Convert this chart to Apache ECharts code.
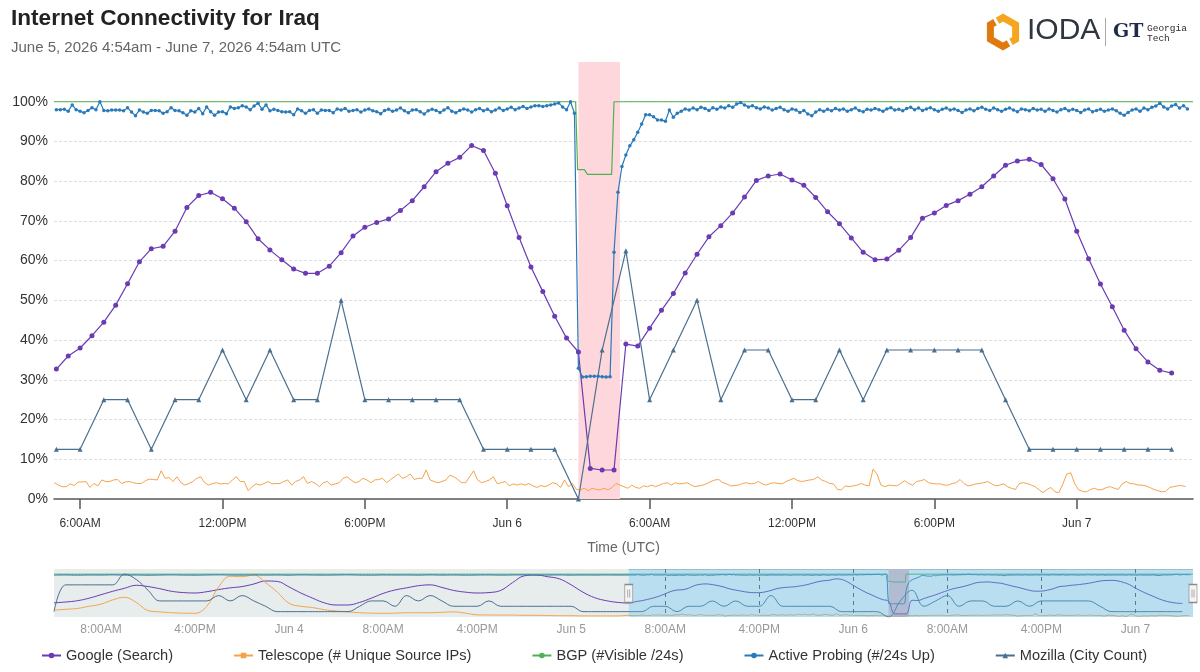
<!DOCTYPE html>
<html><head><meta charset="utf-8">
<script src="https://cdn.jsdelivr.net/npm/echarts@6/dist/echarts.min.js"></script>
<style>html,body{margin:0;padding:0;background:#fff}#chart{width:1200px;height:672px}</style>
</head><body><div id="chart"></div>
<script>
// ---------------- DATA ----------------
const seriesNames = ['Google (Search)', 'Telescope (# Unique Source IPs)', 'BGP (#Visible /24s)', 'Active Probing (#/24s Up)', 'Mozilla (City Count)'];

const viewStart = '2026-06-05T04:54:00Z';
const viewEnd = '2026-06-07T04:54:00Z';
const navStart = '2026-06-03T04:00:00Z';
const outageStart = '2026-06-06T03:00:00Z';
const outageEnd = '2026-06-06T04:45:00Z';

const mainTickTimes = ['2026-06-05T06:00:00Z','2026-06-05T12:00:00Z','2026-06-05T18:00:00Z','2026-06-06T00:00:00Z','2026-06-06T06:00:00Z','2026-06-06T12:00:00Z','2026-06-06T18:00:00Z','2026-06-07T00:00:00Z'];
const mainTickLabels = ['6:00AM','12:00PM','6:00PM','Jun 6','6:00AM','12:00PM','6:00PM','Jun 7'];
const navTickTimes = ['2026-06-03T08:00:00Z','2026-06-03T16:00:00Z','2026-06-04T00:00:00Z','2026-06-04T08:00:00Z','2026-06-04T16:00:00Z','2026-06-05T00:00:00Z','2026-06-05T08:00:00Z','2026-06-05T16:00:00Z','2026-06-06T00:00:00Z','2026-06-06T08:00:00Z','2026-06-06T16:00:00Z','2026-06-07T00:00:00Z'];
const navTickLabels = ['8:00AM','4:00PM','Jun 4','8:00AM','4:00PM','Jun 5','8:00AM','4:00PM','Jun 6','8:00AM','4:00PM','Jun 7'];
const yTickValues = [0,10,20,30,40,50,60,70,80,90,100];

// Google (Search): every 30 min from Jun 5 05:00
const googleStart = '2026-06-05T05:00:00Z';
const googleStepMin = 30;
const googleValues = [32.7,36.0,38.0,41.1,44.5,48.8,54.2,59.7,63.0,63.6,
67.4,73.4,76.4,77.2,75.6,73.2,69.8,65.5,62.7,60.2,
57.9,56.8,56.8,58.6,62.0,66.2,68.4,69.6,70.5,72.6,
75.1,78.6,82.4,84.5,86.0,89.0,87.7,82.0,73.8,65.8,
58.4,52.2,46.0,40.5,37.0,7.7,7.3,7.3,39.0,38.5,
43.0,47.5,51.7,56.9,61.6,66.0,68.8,72.0,76.0,80.2,
81.3,81.8,80.3,79.0,75.9,72.3,69.3,65.7,62.1,60.2,
60.4,62.6,65.8,70.7,72.0,73.9,75.1,76.7,78.6,81.3,
84.0,85.1,85.5,84.2,80.6,75.5,67.4,60.5,54.1,48.4,
42.5,37.8,34.5,32.4,31.7];

// Telescope: every 10 min from Jun 5 04:55
const telescopeStart = '2026-06-05T04:55:00Z';
const telescopeStepMin = 10;
const telescopeValues = [4.1,3.5,3.1,3.1,3.8,3.4,4.3,4.3,4.4,2.9,
3.9,3.3,4.8,4.4,4.4,4.8,4.9,3.9,4.3,4.4,
4.1,3.9,3.9,4.6,5.0,4.9,4.8,7.1,5.2,5.4,
4.4,5.6,4.1,3.5,3.9,4.4,5.2,5.6,4.1,3.5,
3.9,4.1,3.8,3.9,3.8,4.8,5.6,4.4,4.4,2.1,
3.1,3.8,3.5,3.9,4.4,3.8,3.9,3.9,4.4,4.8,
3.5,4.4,4.8,5.6,3.9,4.4,3.9,3.1,4.1,4.4,
3.5,3.8,4.1,5.2,5.6,4.8,4.1,4.4,5.2,4.8,
4.1,4.8,4.9,5.2,4.1,4.9,5.6,6.3,5.2,5.6,
6.3,4.9,5.2,5.2,7.3,4.8,4.4,4.1,4.4,4.8,
6.0,5.6,4.9,4.1,4.1,5.6,7.1,4.8,4.1,4.4,
4.8,5.6,3.8,4.1,4.4,3.3,3.8,3.5,3.8,3.5,
3.9,3.3,2.9,3.4,3.1,3.5,4.1,3.8,2.9,4.8,
3.1,3.9,2.4,2.3,2.7,2.1,2.7,2.4,2.3,2.7,
2.3,2.9,3.9,3.5,3.1,2.7,3.5,2.9,2.7,3.3,
3.1,3.5,3.1,3.5,3.9,4.1,3.5,4.1,3.8,3.9,
4.1,3.5,3.1,3.3,3.5,3.9,4.4,4.8,4.9,4.1,
3.8,3.3,3.4,3.5,3.9,4.1,3.8,3.9,4.4,3.8,
3.5,3.9,4.1,3.9,3.8,4.4,4.8,5.2,4.6,4.4,
4.6,4.8,4.9,5.6,4.8,4.4,3.9,3.8,2.4,2.3,
3.3,3.1,3.3,3.5,3.9,3.5,3.3,7.5,6.3,3.5,
3.1,3.5,3.4,3.3,3.9,4.6,3.9,3.5,4.4,4.6,
4.9,4.1,3.9,3.8,3.8,3.5,3.5,3.9,4.1,4.9,
3.9,3.3,3.5,3.8,3.9,4.1,4.4,3.8,3.3,3.5,
3.8,3.1,2.7,2.4,3.9,4.1,3.9,3.5,3.1,2.3,
1.6,2.4,2.9,1.8,1.6,3.8,6.3,6.6,3.8,2.3,
1.9,1.8,2.4,2.7,2.3,2.4,2.9,3.1,2.7,2.4,
3.8,4.4,3.9,3.8,3.5,3.5,3.3,2.9,2.4,2.1,
1.8,1.9,2.9,3.1,3.3,3.4,3.1];

// BGP: change points
const bgpTimes = ['2026-06-05T04:54:00Z','2026-06-06T02:53:00Z','2026-06-06T02:58:00Z','2026-06-06T03:15:00Z','2026-06-06T03:23:00Z','2026-06-06T04:24:00Z','2026-06-06T04:30:00Z','2026-06-07T04:54:00Z'];
const bgpValues = [100,100,82.9,82.9,81.7,81.7,100,100];

// Active Probing: every 10 min from Jun 5 05:00
const probingStart = '2026-06-05T05:00:00Z';
const probingStepMin = 10;
const probingValues = [98.0,98.0,98.1,97.6,99.2,98.0,97.6,97.2,97.8,98.5,
98.0,100,97.8,97.7,97.9,97.9,97.9,97.7,98.5,97.4,
96.5,97.9,97.4,97.1,97.8,97.8,97.7,97.1,97.5,98.5,
97.8,97.7,97.2,96.6,97.7,97.4,98.3,97.0,98.7,97.5,
96.6,97.4,97.5,97.0,98.7,98.3,98.5,99.0,98.7,98.0,
98.9,99.6,98.1,99.2,97.7,98.1,97.8,97.5,97.4,97.5,
96.7,98.2,97.7,97.1,97.8,98.0,97.1,97.9,97.8,97.8,
97.2,98.2,
97.9,98.3,97.6,97.8,98.0,97.4,97.9,98.2,97.7,97.5,
97.0,97.8,98.1,97.6,97.9,98.4,97.7,97.2,97.9,98.0,
97.5,96.9,97.7,98.1,97.8,97.3,97.9,98.5,97.6,97.2,
97.8,98.2,97.9,97.4,98.0,98.3,97.7,98.1,97.5,97.9,
98.4,97.8,98.2,98.6,98.0,98.4,98.8,98.3,98.7,99.0,
99.0,98.8,99.0,99.2,99.4,99.7,98.7,98.0,100,97.1,
32.9,30.7,30.8,30.9,30.9,30.9,30.8,30.7,30.8,62.1,
77.2,83.7,86.6,88.9,90.4,92.3,94.4,96.7,96.7,96.2,
95.4,95.4,95.1,97.9,96.1,97.1,
97.6,98.2,97.9,98.4,98.0,98.6,98.3,97.8,98.5,98.1,
98.7,98.4,99.0,98.6,99.4,99.8,99.2,98.7,99.0,98.5,
98.2,98.7,98.4,97.9,98.3,98.6,98.0,97.6,98.2,97.9,
97.3,97.8,96.9,96.5,97.4,98.0,97.6,98.1,97.7,98.3,
97.9,98.2,97.6,98.0,98.4,97.8,97.5,98.1,97.9,98.3,
98.0,97.6,98.2,98.5,97.9,98.1,97.7,98.3,98.6,98.0,
98.4,97.8,98.2,98.5,98.0,97.6,98.1,98.4,97.9,98.2,
97.8,97.3,97.9,98.2,97.7,98.3,98.6,98.1,97.8,98.4,
98.0,97.6,98.1,98.4,97.9,97.5,98.2,98.0,97.7,98.3,
97.9,98.1,97.6,98.2,97.8,97.4,98.0,98.3,97.7,98.1,
97.8,97.3,97.9,98.2,97.5,97.8,98.1,97.6,97.9,98.2,
97.7,97.1,96.6,97.3,97.9,98.2,97.6,98.4,98.0,98.6,
98.9,99.6,98.7,98.2,98.9,99.3,98.4,99.0,98.2];

// Mozilla: hourly from Jun 5 05:00
const mozillaStart = '2026-06-05T05:00:00Z';
const mozillaStepMin = 60;
const mozillaValues = [12.5,12.5,25,25,12.5,25,25,37.5,25,37.5,
25,25,50,25,25,25,25,25,12.5,12.5,
12.5,12.5,0,37.5,62.5,25,37.5,50,25,37.5,
37.5,25,25,37.5,25,37.5,37.5,37.5,37.5,37.5,
25,12.5,12.5,12.5,12.5,12.5,12.5,12.5];

// Navigator history before the visible window: hourly from Jun 3 04:00
const navEarlyStart = '2026-06-03T04:00:00Z';
const navEarlyStepMin = 60;
const navGoogleEarly = [33,35,38,44,52,60,67,74,71,66,60,57,56,59,64,68,71,77,84,83,70,56,44,33,28,28,34,44,55,63,68,73,75,69,62,58,56,57,62,80,96,98,94,89,75,58,45,38,34];
const navTelescopeEarly = [16,18,20,25,30,40,46,34,15,12,10,9,8.6,25,70,95,94,98,80,58,32,25,22,17,14,12,10,9,8.6,9,10,10,10,11,12,9,5,4.7,4.5,4.5,4,4,3.5,3,3,2.5,2.5,2.5,2.5];
const navBgpEarly = [100,100,100,100,100,100,100,100,100,100,100,100,100,100,100,100,100,100,100,100,100,100,100,100,100,100,100,100,100,100,100,100,100,100,100,100,100,100,100,100,100,100,100,100,100,100,100,100,100];
const navProbingEarly = [97.8,98.1,97.6,98.0,97.9,98.3,97.7,98.0,97.5,97.9,98.2,97.8,97.6,98.0,98.3,97.9,97.7,98.1,97.8,98.0,97.6,98.2,97.9,97.7,98.0,98.3,97.8,97.6,98.1,97.9,98.0,97.7,98.2,97.8,98.0,97.6,97.9,98.1,97.7,98.0,98.2,97.8,97.9,98.1,97.7,98.0,97.8,98.1,97.9];
const navMozillaEarly = [12.5,75,75,75,75,75,100,87.5,62.5,37.5,37.5,37.5,37.5,37.5,50,37.5,50,37.5,25,12.5,12.5,12.5,12.5,12.5,12.5,12.5,25,37.5,37.5,25,50,37.5,50,37.5,25,25,25,37.5,25,25,25,25,25,25,25,12.5,12.5,12.5,12.5];

// ---------------- BUILD ----------------
const ms = s => Date.parse(s);
const regular = (start, stepMin, values) => values.map((v, i) => [ms(start) + i * stepMin * 60000, v]);
const paired = (times, values) => times.map((t, i) => [ms(t), values[i]]);

const googleData = regular(googleStart, googleStepMin, googleValues);
const telescopeData = regular(telescopeStart, telescopeStepMin, telescopeValues);
const bgpData = paired(bgpTimes, bgpValues);
const probingData = regular(probingStart, probingStepMin, probingValues);
const mozillaData = regular(mozillaStart, mozillaStepMin, mozillaValues);

const navGoogle = regular(navEarlyStart, navEarlyStepMin, navGoogleEarly).concat(googleData);
const navTelescope = regular(navEarlyStart, navEarlyStepMin, navTelescopeEarly).concat(telescopeData);
const navBgp = regular(navEarlyStart, navEarlyStepMin, navBgpEarly).concat(bgpData);
const navProbing = regular(navEarlyStart, navEarlyStepMin, navProbingEarly).concat(probingData);
const navMozilla = regular(navEarlyStart, navEarlyStepMin, navMozillaEarly).concat(mozillaData);

const COLORS = ['#6a3bb2', '#f5a34b', '#52b052', '#2a7aba', '#4b6f8e'];
const FONT = '"Liberation Sans", Arial, Helvetica, sans-serif';

const mainTicks = mainTickTimes.map(ms);
const navTicks = navTickTimes.map(ms);

function mainLine(idx, data, extra) {
  return Object.assign({
    name: seriesNames[idx], type: 'line', data: data,
    xAxisIndex: 0, yAxisIndex: 0,
    color: COLORS[idx],
    lineStyle: { width: 1.2, color: COLORS[idx] },
    itemStyle: { color: COLORS[idx] },
    animation: false, silent: true
  }, extra);
}
function navLine(idx, data, extra) {
  return Object.assign({
    name: seriesNames[idx], type: 'line', data: data,
    xAxisIndex: 1, yAxisIndex: 1,
    color: COLORS[idx],
    smooth: 0.4, showSymbol: false, symbol: 'none',
    lineStyle: { width: 1, color: COLORS[idx] },
    animation: false, silent: true
  }, extra);
}

const option = {
  animation: false,
  backgroundColor: '#fff',
  textStyle: { fontFamily: FONT },
  title: {
    text: 'Internet Connectivity for Iraq',
    subtext: 'June 5, 2026 4:54am - June 7, 2026 4:54am UTC',
    left: 6, top: 2, itemGap: 10,
    textStyle: { fontSize: 22.6, fontWeight: 'bold', color: '#222', fontFamily: FONT },
    subtextStyle: { fontSize: 15, color: '#666', fontFamily: FONT }
  },
  legend: {
    data: seriesNames,
    left: 41, top: 648, padding: 0,
    itemWidth: 19, itemHeight: 7, itemGap: 60,
    textStyle: { fontSize: 14.6, color: '#333', fontFamily: FONT },
    selectedMode: false
  },
  grid: [
    { left: 54, top: 62, width: 1139, height: 437 },
    { left: 54, top: 569, width: 1139, height: 48 }
  ],
  xAxis: [
    {
      type: 'value', gridIndex: 0, min: ms(viewStart), max: ms(viewEnd),
      name: 'Time (UTC)', nameLocation: 'middle', nameGap: 42,
      nameTextStyle: { fontSize: 14, color: '#666', fontFamily: FONT },
      axisLine: { show: true, lineStyle: { color: '#555', width: 1.5 } },
      axisTick: { show: true, length: 10, customValues: mainTicks, lineStyle: { color: '#555', width: 1.5 } },
      axisLabel: { customValues: mainTicks, margin: 19, fontSize: 12, color: '#333', fontFamily: FONT,
        formatter: v => { const i = mainTicks.indexOf(v); return i >= 0 ? mainTickLabels[i] : ''; } },
      splitLine: { show: false }
    },
    {
      type: 'value', gridIndex: 1, min: ms(navStart), max: ms(viewEnd),
      axisLine: { show: false },
      axisTick: { show: false, customValues: navTicks },
      axisLabel: { customValues: navTicks, margin: 7, fontSize: 12, color: '#999', fontFamily: FONT,
        formatter: v => { const i = navTicks.indexOf(v); return i >= 0 ? navTickLabels[i] : ''; } },
      splitLine: { show: true, lineStyle: { color: '#555', type: [4, 4], width: 1 } }
    }
  ],
  yAxis: [
    {
      type: 'value', gridIndex: 0, min: 0, max: 110, interval: 10,
      axisLine: { show: false }, axisTick: { show: false },
      axisLabel: { fontSize: 14, color: '#333', margin: 6, showMaxLabel: false, fontFamily: FONT,
        formatter: v => (yTickValues.indexOf(v) >= 0 ? v + '%' : '') },
      splitLine: { show: true, showMinLine: false, showMaxLine: false, lineStyle: { color: '#dedede', type: [3, 2], width: 1 } }
    },
    {
      type: 'value', gridIndex: 1, min: 0, max: 112, interval: 112,
      axisLine: { show: false }, axisTick: { show: false }, axisLabel: { show: false },
      splitLine: { show: true, showMinLine: false, lineStyle: { color: '#c8c8c8', width: 1 } }
    }
  ],
  series: [
    mainLine(0, googleData, { symbol: 'circle', symbolSize: 5, showSymbol: true,
      markArea: { silent: true, itemStyle: { color: '#fdd7db' },
        data: [[{ xAxis: ms(outageStart) }, { xAxis: ms(outageEnd) }]] } }),
    mainLine(1, telescopeData, { symbol: 'rect', symbolSize: 5, showSymbol: false, lineStyle: { width: 1, color: COLORS[1] } }),
    mainLine(2, bgpData, { symbol: 'circle', symbolSize: 4, showSymbol: false, lineStyle: { width: 1.2, color: COLORS[2] } }),
    mainLine(3, probingData, { symbol: 'circle', symbolSize: 3.5, showSymbol: true, lineStyle: { width: 1.2, color: COLORS[3] } }),
    mainLine(4, mozillaData, { symbol: 'triangle', symbolSize: 5, showSymbol: true, lineStyle: { width: 1.2, color: COLORS[4] } }),

    navLine(0, navGoogle, {
      markArea: { silent: true, z: 0, itemStyle: { color: '#e7eded' },
        data: [[{ xAxis: ms(navStart) }, { xAxis: ms(viewStart) }],
               [{ xAxis: ms(outageStart) }, { xAxis: ms(outageEnd), itemStyle: { color: '#f3c3cb' } }]] }
    }),
    navLine(1, navTelescope),
    navLine(2, navBgp),
    navLine(3, navProbing),
    navLine(4, navMozilla, {
      markArea: { silent: true, z: 5, itemStyle: { color: 'rgba(86,176,220,0.42)' },
        data: [[{ xAxis: ms(viewStart) }, { xAxis: ms(viewEnd) }]] },
      markPoint: { silent: true, z: 6, animation: false,
        symbol: 'path://M0,0L8,0L8,18L0,18Z M3,5L3,13 M5,5L5,13',
        symbolSize: [8, 18], symbolKeepAspect: false,
        itemStyle: { color: '#f4f4f4', borderColor: '#8a8a8a', borderWidth: 1 },
        label: { show: false },
        data: [{ coord: [ms(viewStart), 55] }, { coord: [ms(viewEnd), 55] }] }
    })
  ],
  graphic: [
    { type: 'polyline', shape: { points: [[997.5,20.7],[1003,17.5],[1015.6,24.75],[1015.6,39.25],[1011,41.9]] },
      style: { stroke: '#f6a520', lineWidth: 7, fill: null, lineJoin: 'miter' } },
    { type: 'polyline', shape: { points: [[1008.5,43.3],[1003,46.5],[990.4,39.25],[990.4,24.75],[995,22.1]] },
      style: { stroke: '#e07a0c', lineWidth: 7, fill: null, lineJoin: 'miter' } },
    { type: 'text', left: 1027, top: 16, style: { text: 'IODA', fontSize: 30, fill: '#2f3640', fontFamily: FONT } },
    { type: 'line', shape: { x1: 1105.5, y1: 18, x2: 1105.5, y2: 46 }, style: { stroke: '#aaa', lineWidth: 1 } },
    { type: 'text', left: 1113, top: 23, style: { text: 'GT', fontSize: 19, fontWeight: 'bold', fill: '#1f2b4a', fontFamily: '"DejaVu Serif", serif' } },
    { type: 'text', left: 1147, top: 23, style: { text: 'Georgia', fontSize: 9.5, fill: '#2b2b2b', fontFamily: '"Liberation Mono", monospace' } },
    { type: 'text', left: 1147, top: 33, style: { text: 'Tech', fontSize: 9.5, fill: '#2b2b2b', fontFamily: '"Liberation Mono", monospace' } }
  ]
};

const chart = echarts.init(document.getElementById('chart'), null, { renderer: 'canvas' });
chart.setOption(option);
</script>
</body></html>
